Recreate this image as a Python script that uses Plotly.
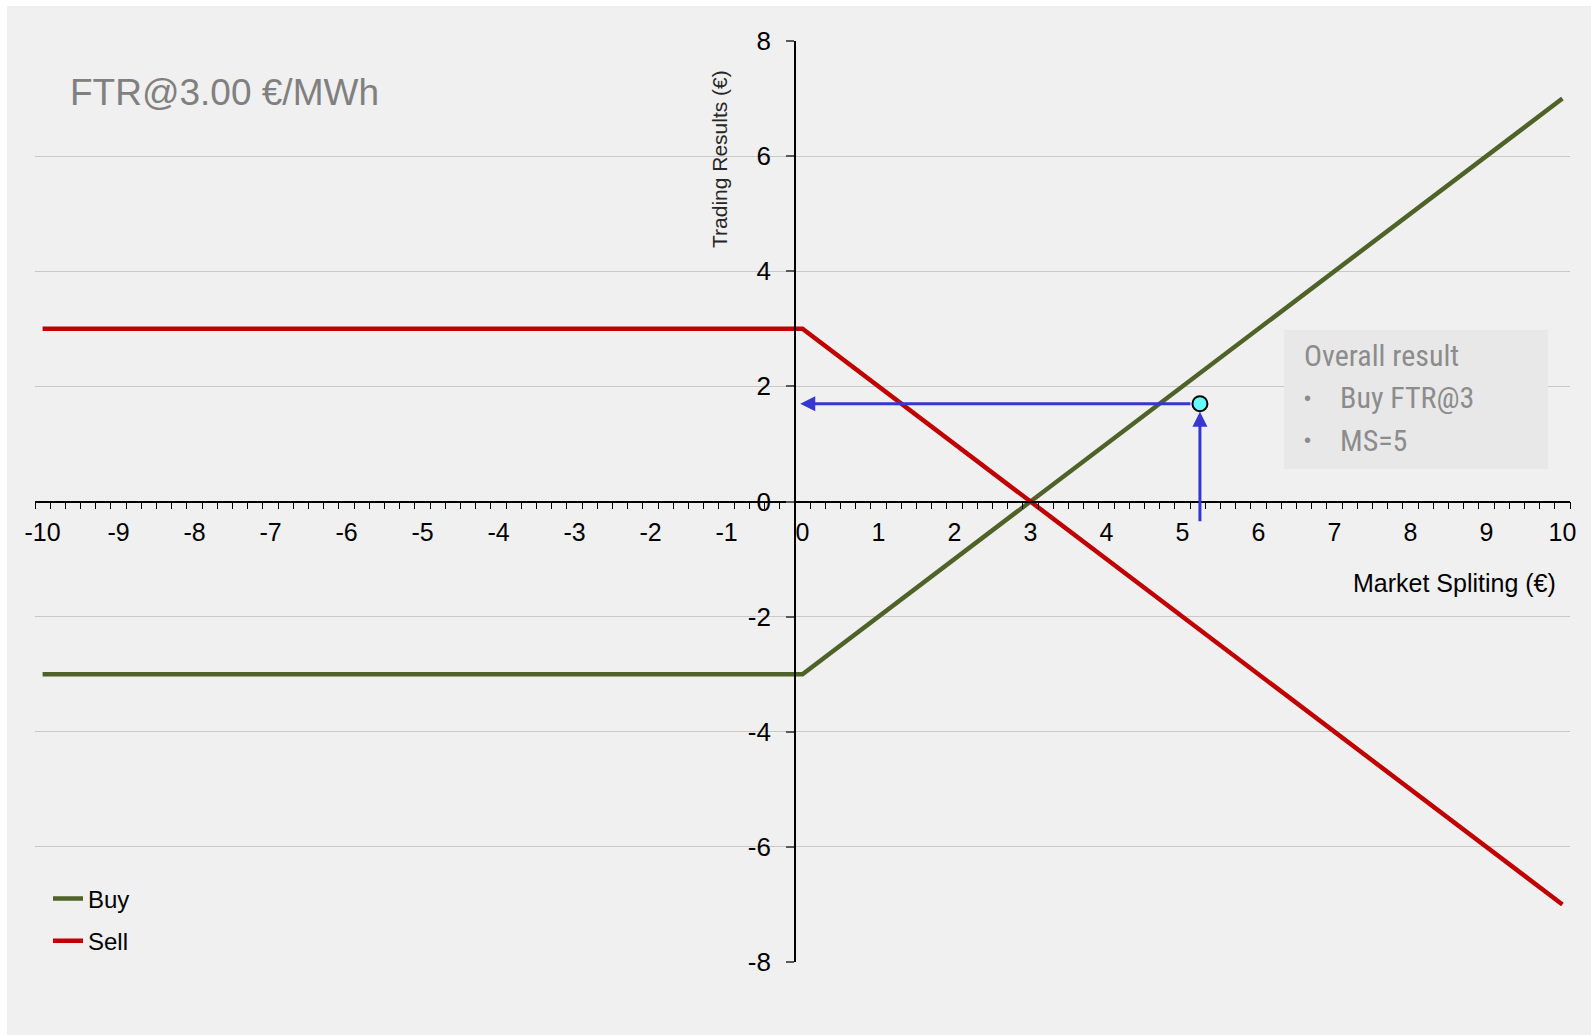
import plotly.graph_objects as go

# Payoff profile of an FTR bought/sold at 3.00 EUR/MWh versus the market spread
spread = [-10, 0, 10]
buy_result = [-3, -3, 7]
sell_result = [3, 3, -7]

# Highlighted scenario point
scenario_x = [5.23]
scenario_y = [1.7]

x_ticks = list(range(-10, 11))
y_ticks = list(range(-8, 9, 2))

X_MIN, X_MAX = -10.1, 10.1
Y_MIN, Y_MAX = -8, 8
Y_AXIS_CROSS = -0.1

FONT = "Liberation Sans, Arial, sans-serif"
NARROW = "Liberation Sans Narrow, Arial Narrow, Roboto Condensed, DejaVu Sans Condensed, sans-serif"
GREEN = "#4F6228"
RED = "#C00000"
BLUE = "#3636D0"

W, H = 1591, 1035
ML, MR, MT, MB = 35, 21, 41, 73
PW, PH = W - ML - MR, H - MT - MB


def px_x(p):
    return (p - ML) / PW


def px_y(p):
    return (H - MB - p) / PH


fig = go.Figure()

fig.add_trace(go.Scatter(
    x=spread, y=buy_result, mode="lines", name="Buy",
    line=dict(color=GREEN, width=4.5), legendgroup="buy",
))
fig.add_trace(go.Scatter(
    x=spread, y=sell_result, mode="lines", name="Sell",
    line=dict(color=RED, width=4.5), legendgroup="sell",
))
fig.add_trace(go.Scatter(
    x=scenario_x, y=scenario_y, mode="markers", showlegend=False,
    marker=dict(size=15, color="#66FFFF", line=dict(color="black", width=2)),
))

shapes = [
    # grey chart panel
    dict(type="rect", xref="paper", yref="paper", layer="below",
         x0=px_x(7), x1=px_x(W + 5), y0=px_y(H + 5), y1=px_y(6),
         fillcolor="#F0F0F0", line=dict(width=0)),
    # summary box
    dict(type="rect", xref="paper", yref="paper", layer="above",
         x0=px_x(1284), x1=px_x(1548), y0=px_y(469), y1=px_y(330),
         fillcolor="#E8E8E8", line=dict(width=0)),
]

text_notes = [
    dict(text="FTR@3.00 €/MWh", x=px_x(68), y=px_y(92), xanchor="left", yanchor="middle",
         font=dict(family=FONT, size=37, color="#808080")),
    dict(text="Trading Results (€)", x=px_x(720), y=px_y(159), textangle=-90,
         xanchor="center", yanchor="middle",
         font=dict(family=FONT, size=21, color="#262626")),
    dict(text="Market Spliting (€)", x=px_x(1558), y=px_y(583), xanchor="right", yanchor="middle",
         font=dict(family=FONT, size=25, color="black")),
    dict(text="Overall result", x=px_x(1302), y=px_y(355), xanchor="left", yanchor="middle",
         font=dict(family=NARROW, size=30, color="#8C8C8C")),
    dict(text="•", x=px_x(1302), y=px_y(398), xanchor="left", yanchor="middle",
         font=dict(family=FONT, size=20, color="#8C8C8C")),
    dict(text="Buy FTR@3", x=px_x(1338), y=px_y(398), xanchor="left", yanchor="middle",
         font=dict(family=NARROW, size=30, color="#8C8C8C")),
    dict(text="•", x=px_x(1302), y=px_y(440), xanchor="left", yanchor="middle",
         font=dict(family=FONT, size=20, color="#8C8C8C")),
    dict(text="MS=5", x=px_x(1338), y=px_y(440), xanchor="left", yanchor="middle",
         font=dict(family=NARROW, size=30, color="#8C8C8C")),
]
for a in text_notes:
    a.update(xref="paper", yref="paper", showarrow=False)

# Arrows reading the scenario off both axes
arrows = [
    dict(x=scenario_x[0], y=scenario_y[0], ax=scenario_x[0], ay=-0.37, standoff=8),
    dict(x=-0.03, y=scenario_y[0], ax=scenario_x[0], ay=scenario_y[0], startstandoff=8),
]
for a in arrows:
    a.update(xref="x", yref="y", axref="x", ayref="y", text="", showarrow=True,
             arrowhead=2, arrowsize=1.0, arrowwidth=3, arrowcolor=BLUE)

fig.update_layout(
    width=W, height=H,
    margin=dict(l=ML, r=MR, t=MT, b=MB),
    paper_bgcolor="white", plot_bgcolor="rgba(0,0,0,0)",
    font=dict(family=FONT, size=24, color="black"),
    shapes=shapes, annotations=text_notes + arrows,
    showlegend=True,
    legend=dict(x=px_x(48), y=px_y(920), xanchor="left", yanchor="middle",
                bgcolor="rgba(0,0,0,0)", font=dict(family=FONT, size=24, color="black"),
                tracegroupgap=8, itemwidth=30),
    xaxis=dict(
        range=[X_MIN, X_MAX], tickmode="array", tickvals=x_ticks,
        ticktext=[str(v) for v in x_ticks], ticks="",
        showline=True, linecolor="black", linewidth=1.5,
        anchor="free", position=(0 - Y_MIN) / (Y_MAX - Y_MIN),
        showgrid=False, zeroline=False, ticklabelstandoff=9,
        tickfont=dict(size=25),
        minor=dict(tick0=X_MIN, dtick=0.2, ticks="outside", ticklen=7,
                   tickcolor="black", tickwidth=1, showgrid=False),
    ),
    yaxis=dict(
        range=[Y_MIN, Y_MAX], tickmode="array", tickvals=y_ticks,
        ticktext=[str(v) for v in y_ticks],
        ticks="outside", ticklen=8, tickcolor="#595959", tickwidth=1.5,
        showline=True, linecolor="black", linewidth=1.5,
        anchor="free", position=(Y_AXIS_CROSS - X_MIN) / (X_MAX - X_MIN),
        showgrid=True, gridcolor="#C8C8C8", gridwidth=1, zeroline=False,
        ticklabelstandoff=10, tickfont=dict(size=26),
    ),
)

fig.write_html("out.html")
